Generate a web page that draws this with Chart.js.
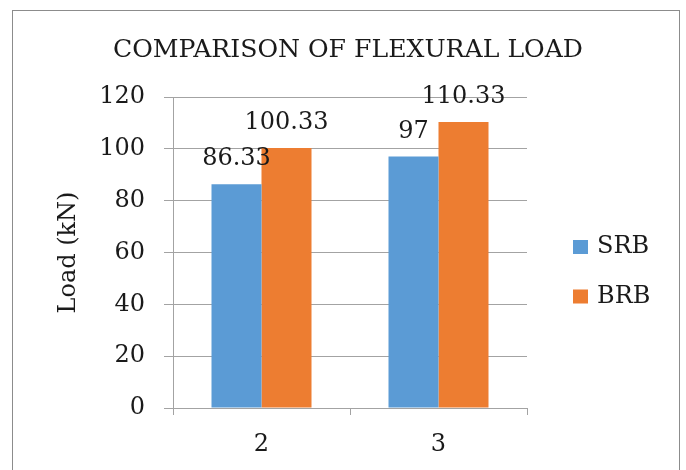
<!DOCTYPE html>
<html><head><meta charset="utf-8">
<script src="https://cdn.jsdelivr.net/npm/chart.js@4/dist/chart.umd.min.js"></script>
<style>html,body{margin:0;padding:0;background:#fff;overflow:hidden}canvas{display:block}</style>
</head><body><canvas id="c" width="686" height="470"></canvas>
<script>
const chartTitle = 'COMPARISON OF FLEXURAL LOAD';
const categories = ['2', '3'];
const seriesNames = ['SRB', 'BRB'];
const srbValues = [86.33, 97];
const brbValues = [100.33, 110.33];
const yTicks = [0, 20, 40, 60, 80, 100, 120];
const yAxisTitle = 'Load (kN)';
const seriesColors = ['#5B9BD5', '#ED7D31'];

const SERIF = '"DejaVu Serif", serif';
const TEXT = '#1a1a1a';
const GRID = '#a3a3a3';

const decor = {
  id: 'decor',
  beforeDraw(chart) {
    const ctx = chart.ctx;
    ctx.save();
    ctx.fillStyle = '#fff';
    ctx.fillRect(0, 0, chart.width, chart.height);
    ctx.restore();
  },
  afterDatasetsDraw(chart) {
    const ctx = chart.ctx;
    ctx.save();
    ctx.font = '24px ' + SERIF;
    ctx.fillStyle = TEXT;
    ctx.textAlign = 'center';
    ctx.textBaseline = 'alphabetic';
    chart.data.datasets.forEach((ds, i) => {
      chart.getDatasetMeta(i).data.forEach((el, j) => {
        ctx.fillText(String(ds.data[j]), el.x, el.y - 19);
      });
    });
    ctx.restore();
  },
  afterDraw(chart) {
    const ctx = chart.ctx;
    ctx.save();
    // outer frame
    ctx.strokeStyle = '#8c8c8c';
    ctx.lineWidth = 1;
    ctx.strokeRect(12.5, 10.5, 667, 520);
    // title (narrow serif look)
    ctx.font = '25px ' + SERIF;
    ctx.fillStyle = TEXT;
    ctx.textAlign = 'center';
    ctx.textBaseline = 'alphabetic';
    const w = ctx.measureText(chartTitle).width;
    ctx.save();
    ctx.translate(348, 57);
    ctx.scale(470 / w, 1);
    ctx.fillText(chartTitle, 0, 0);
    ctx.restore();
    // legend
    ctx.font = '24px ' + SERIF;
    ctx.textAlign = 'left';
    ctx.textBaseline = 'middle';
    chart.data.datasets.forEach((ds, i) => {
      const cy = 247 + i * 49.5;
      ctx.fillStyle = ds.backgroundColor;
      ctx.fillRect(573, cy - 7, 15, 14);
      ctx.fillStyle = TEXT;
      ctx.fillText(ds.label, 597, cy);
    });
    ctx.restore();
  }
};

new Chart(document.getElementById('c'), {
  type: 'bar',
  data: {
    labels: categories,
    datasets: [
      { label: seriesNames[0], data: srbValues, backgroundColor: seriesColors[0] },
      { label: seriesNames[1], data: brbValues, backgroundColor: seriesColors[1] }
    ]
  },
  options: {
    responsive: false,
    animation: false,
    devicePixelRatio: 1,
    layout: { padding: { top: 97, right: 159, bottom: 0, left: 0 } },
    datasets: { bar: { categoryPercentage: 0.565, barPercentage: 1 } },
    plugins: { legend: { display: false }, title: { display: false }, tooltip: { enabled: false } },
    scales: {
      x: {
        afterFit(s) { s.height = 62; },
        grid: { drawOnChartArea: false, tickLength: 7, color: GRID, offset: true },
        border: { color: GRID },
        ticks: { padding: 15, color: TEXT, font: { family: SERIF, size: 24 } }
      },
      y: {
        min: 0, max: 120,
        afterFit(s) { s.width = 173; },
        afterBuildTicks(s) { s.ticks = yTicks.map(v => ({ value: v })); },
        grid: { color: GRID, tickLength: 9 },
        border: { color: GRID },
        ticks: { padding: 19, color: TEXT, font: { family: SERIF, size: 24 } },
        title: { display: true, text: yAxisTitle, color: TEXT, font: { family: SERIF, size: 24 }, padding: { top: 54 } }
      }
    }
  },
  plugins: [decor]
});
</script>
</body></html>
